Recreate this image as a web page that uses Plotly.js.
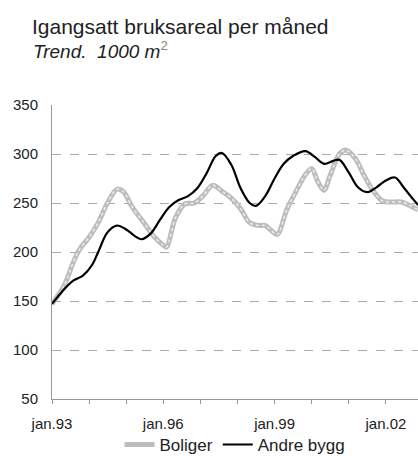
<!DOCTYPE html>
<html>
<head>
<meta charset="utf-8">
<script src="https://cdn.plot.ly/plotly-3.0.1.min.js"></script>
<style>
  html, body { margin: 0; padding: 0; background: #fff; }
  #chart { width: 418px; height: 456px; }
</style>
</head>
<body>
<div id="chart"></div>
<script>
// Igangsatt bruksareal per måned, trend, 1000 m2 (lest av figuren)
const boligerDates = [
  '1993-01-01', '1993-05-01', '1993-08-01', '1993-10-01', '1994-01-01', '1994-04-01',
  '1994-07-01', '1994-10-01', '1994-12-01', '1995-03-01', '1995-07-01', '1995-10-01',
  '1996-01-01', '1996-02-01', '1996-05-01', '1996-08-01', '1996-11-01', '1997-02-01',
  '1997-05-01', '1997-08-01', '1997-11-01', '1998-02-01', '1998-05-01', '1998-08-01',
  '1998-10-01', '1999-01-01', '1999-02-01', '1999-05-01', '1999-08-01', '1999-11-01',
  '2000-01-01', '2000-03-01', '2000-05-01', '2000-07-01', '2000-10-01', '2000-12-01',
  '2001-03-01', '2001-06-01', '2001-09-01', '2001-12-01', '2002-03-01', '2002-06-01',
  '2002-09-01', '2002-11-13'
];
const boligerValues = [
  147, 166, 190, 203, 215, 230,
  250, 264, 262, 246, 229, 216,
  207, 205, 235, 249, 250, 258,
  268, 262, 255, 244, 230, 227,
  227, 219, 218, 243, 262, 279,
  285, 272, 263, 278, 300, 304,
  296, 278, 262, 252, 251, 251,
  247, 243
];

const andreDates = [
  '1993-01-01', '1993-05-01', '1993-08-01', '1993-11-01', '1994-02-01', '1994-04-01',
  '1994-07-01', '1994-10-01', '1995-01-01', '1995-04-01', '1995-06-01', '1995-09-01',
  '1995-12-01', '1996-03-01', '1996-06-01', '1996-09-01', '1996-12-01', '1997-03-01',
  '1997-06-01', '1997-08-01', '1997-11-01', '1998-02-01', '1998-05-01', '1998-07-01',
  '1998-10-01', '1999-01-01', '1999-04-01', '1999-07-01', '1999-11-01', '2000-02-01',
  '2000-05-01', '2000-08-01', '2000-10-01', '2001-01-01', '2001-04-01', '2001-07-01',
  '2001-10-01', '2002-01-01', '2002-04-01', '2002-07-01', '2002-09-01', '2002-11-13'
];
const andreValues = [
  147, 162, 171, 176, 187, 200,
  220, 227, 223, 216, 213, 219,
  233, 246, 253, 257, 265, 280,
  298, 301, 289, 265, 250, 247,
  257, 275, 290, 298, 303, 297,
  290, 293, 294, 281, 266, 261,
  266, 273, 276, 265, 257, 248
];

const labelTicks = ['1993-01-01', '1996-01-01', '1999-01-01', '2002-01-01'];
const labelTexts = ['jan.93', 'jan.96', 'jan.99', 'jan.02'];
const yTicks = [50, 100, 150, 200, 250, 300, 350];

const FONT = 'Liberation Sans, Arial, sans-serif';

const traces = [
  {
    x: boligerDates, y: boligerValues, name: 'Boliger',
    type: 'scatter', mode: 'lines',
    line: { color: '#bdbdbd', width: 5, shape: 'spline', smoothing: 1 }
  },
  {
    // lys prikket linje oppå for å etterligne mønsteret
    x: boligerDates, y: boligerValues, showlegend: false, hoverinfo: 'skip',
    type: 'scatter', mode: 'lines',
    line: { color: '#eeeeee', width: 1.5, dash: 'dot', shape: 'spline', smoothing: 1 }
  },
  {
    x: andreDates, y: andreValues, name: 'Andre bygg',
    type: 'scatter', mode: 'lines',
    line: { color: '#000000', width: 2.2, shape: 'spline', smoothing: 1 }
  }
];

const layout = {
  width: 418,
  height: 456,
  margin: { l: 52, r: 0, t: 105, b: 57, autoexpand: false },
  paper_bgcolor: '#fff',
  plot_bgcolor: '#fff',
  font: { family: FONT, size: 15, color: '#222' },
  showlegend: true,
  legend: {
    orientation: 'h',
    x: 0.5, xanchor: 'center',
    y: -0.095, yanchor: 'top',
    bgcolor: 'rgba(0,0,0,0)',
    font: { family: FONT, size: 17, color: '#222' },
    traceorder: 'normal'
  },
  xaxis: {
    type: 'date',
    range: ['1993-01-01', '2002-11-13'],
    tickmode: 'array',
    tickvals: labelTicks,
    ticktext: labelTexts,
    ticks: 'outside',
    ticklen: 4,
    tickcolor: '#999',
    minor: {
      ticks: 'outside',
      ticklen: 4,
      tickcolor: '#999',
      tick0: '1993-01-01',
      dtick: 'M12',
      showgrid: false
    },
    showline: true,
    linecolor: '#999',
    linewidth: 1,
    showgrid: false,
    zeroline: false,
    ticklabelstandoff: 7,
    tickfont: { family: FONT, size: 15, color: '#222' }
  },
  yaxis: {
    range: [50, 350],
    tickmode: 'array',
    tickvals: yTicks,
    ticks: '',
    showline: true,
    linecolor: '#999',
    linewidth: 1,
    showgrid: true,
    gridcolor: '#aaa',
    griddash: 'dash',
    gridwidth: 1,
    zeroline: false,
    ticklabelstandoff: 10,
    tickfont: { family: FONT, size: 15, color: '#222' }
  },
  annotations: [
    {
      text: 'Igangsatt bruksareal per måned',
      xref: 'paper', yref: 'paper',
      x: -0.0601, y: 1.268, xanchor: 'left', yanchor: 'middle',
      showarrow: false,
      font: { family: FONT, size: 21, color: '#222' }
    },
    {
      text: '<i>Trend.  1000 m</i><sup><span style="color:#888">2</span></sup>',
      xref: 'paper', yref: 'paper',
      x: -0.0574, y: 1.186, xanchor: 'left', yanchor: 'middle',
      showarrow: false,
      font: { family: FONT, size: 19, color: '#222' }
    }
  ]
};

Plotly.newPlot('chart', traces, layout, { displayModeBar: false, staticPlot: true });
</script>
</body>
</html>
